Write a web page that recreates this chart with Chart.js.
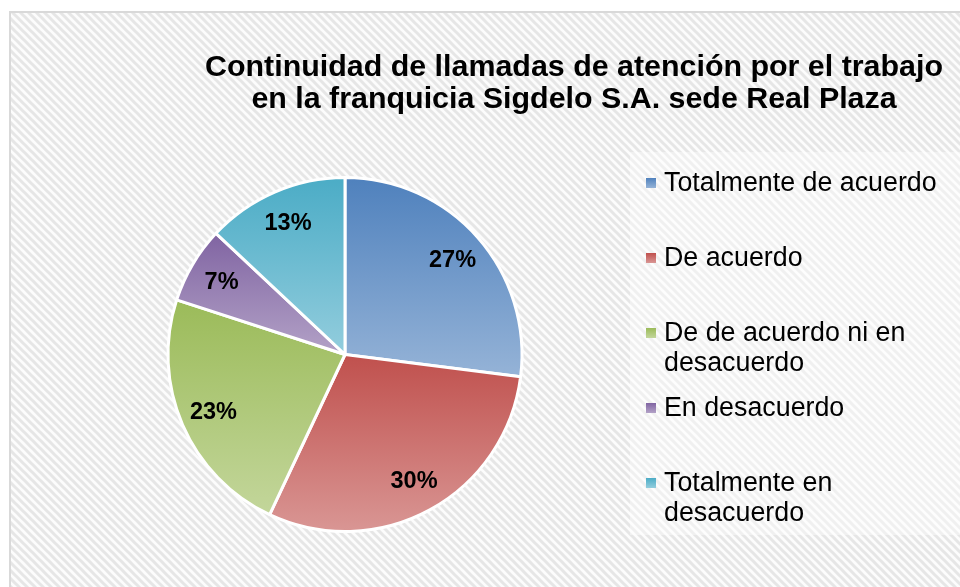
<!DOCTYPE html>
<html>
<head>
<meta charset="utf-8">
<title>Continuidad de llamadas de atención</title>
<script src="https://cdn.jsdelivr.net/npm/chart.js@4.4.1/dist/chart.umd.min.js"></script>
<style>
  html, body { margin: 0; padding: 0; background: #fff; }
  #wrap { width: 960px; height: 587px; }
</style>
</head>
<body>
<div id="wrap"><canvas id="pie" width="960" height="587"></canvas></div>
<script>
'use strict';

/*--- data ---*/
var titleLines = [
  'Continuidad de llamadas de atención por el trabajo',
  'en la franquicia Sigdelo S.A. sede Real Plaza'
];
var categories = [
  'Totalmente de acuerdo',
  'De acuerdo',
  'De de acuerdo ni en desacuerdo',
  'En desacuerdo',
  'Totalmente en desacuerdo'
];
var percents = [27, 30, 23, 7, 13];

/*--- colours (top of each slice -> bottom) ---*/
var topColors = ['#4f81bd', '#c0504d', '#9bbb59', '#8064a2', '#4bacc6'];
var bottomColors = ['#95b3d7', '#d99694', '#c3d69b', '#b3a2c7', '#93cddd'];

var FONT = '"Liberation Sans", Arial, sans-serif';

/*--- diagonal hatch used for the chart background ---*/
function hatch(ctx) {
  var t = document.createElement('canvas');
  t.width = t.height = 8;
  var c = t.getContext('2d');
  c.fillStyle = '#fcfcfc';
  c.fillRect(0, 0, 8, 8);
  c.strokeStyle = '#e6e6e6';
  c.lineWidth = 3;
  c.beginPath();
  c.moveTo(-2, -2); c.lineTo(10, 10);
  c.moveTo(6, -2); c.lineTo(18, 10);
  c.moveTo(-10, -2); c.lineTo(2, 10);
  c.stroke();
  return ctx.createPattern(t, 'repeat');
}

var frame = {
  id: 'frame',
  beforeDraw: function (chart) {
    var ctx = chart.ctx, w = chart.width, h = chart.height;
    ctx.save();
    ctx.fillStyle = '#fff';
    ctx.fillRect(0, 0, w, h);
    ctx.fillStyle = hatch(ctx);
    ctx.fillRect(10, 12, w - 10, h - 12);
    ctx.strokeStyle = '#d9d9d9';
    ctx.lineWidth = 2;
    ctx.beginPath();
    ctx.moveTo(10, h);
    ctx.lineTo(10, 12);
    ctx.lineTo(w, 12);
    ctx.stroke();
    // legend panel
    ctx.fillStyle = 'rgba(255,255,255,0.4)';
    ctx.fillRect(630, 152, w - 630, 383);
    ctx.restore();
  }
};

/*--- vertical gradient per slice, spanning the slice's own height ---*/
var shading = {
  id: 'shading',
  beforeDatasetsDraw: function (chart) {
    var ctx = chart.ctx;
    chart.getDatasetMeta(0).data.forEach(function (arc, i) {
      var p = arc.getProps(['x', 'y', 'startAngle', 'endAngle', 'outerRadius']);
      var ys = [p.y,
        p.y + Math.sin(p.startAngle) * p.outerRadius,
        p.y + Math.sin(p.endAngle) * p.outerRadius];
      [-Math.PI / 2, Math.PI / 2, 3 * Math.PI / 2].forEach(function (a) {
        if (a >= p.startAngle && a <= p.endAngle) ys.push(p.y + Math.sin(a) * p.outerRadius);
      });
      var g = ctx.createLinearGradient(0, Math.min.apply(null, ys), 0, Math.max.apply(null, ys));
      g.addColorStop(0, topColors[i]);
      g.addColorStop(1, bottomColors[i]);
      arc.options.backgroundColor = g;
    });
  }
};

/*--- percentage labels inside the slices ---*/
var sliceLabels = {
  id: 'sliceLabels',
  afterDatasetsDraw: function (chart) {
    var ctx = chart.ctx;
    var values = chart.data.datasets[0].data;
    ctx.save();
    ctx.font = 'bold 23.5px ' + FONT;
    ctx.fillStyle = '#000';
    ctx.textAlign = 'center';
    ctx.textBaseline = 'middle';
    chart.getDatasetMeta(0).data.forEach(function (arc, i) {
      var p = arc.getProps(['x', 'y', 'startAngle', 'endAngle', 'outerRadius']);
      var mid = (p.startAngle + p.endAngle) / 2;
      var r = p.outerRadius * 0.81;
      ctx.fillText(values[i] + '%', p.x + Math.cos(mid) * r, p.y + Math.sin(mid) * r + 1);
    });
    ctx.restore();
  }
};

/*--- legend on the right, wrapped text ---*/
function wrap(ctx, text, maxW) {
  var words = text.split(' '), lines = [], line = '';
  words.forEach(function (wd) {
    var test = line ? line + ' ' + wd : wd;
    if (line && ctx.measureText(test).width > maxW) {
      lines.push(line);
      line = wd;
    } else {
      line = test;
    }
  });
  lines.push(line);
  return lines;
}

var sideLegend = {
  id: 'sideLegend',
  afterDraw: function (chart) {
    var ctx = chart.ctx;
    ctx.save();
    ctx.font = '26.8px ' + FONT;
    ctx.fillStyle = '#000';
    ctx.textBaseline = 'alphabetic';
    chart.data.labels.forEach(function (label, i) {
      var base = 191 + i * 75;
      var g = ctx.createLinearGradient(0, base - 13, 0, base - 3);
      g.addColorStop(0, topColors[i]);
      g.addColorStop(1, bottomColors[i]);
      ctx.fillStyle = g;
      ctx.fillRect(646, base - 13, 10, 10);
      ctx.fillStyle = '#000';
      wrap(ctx, label, 285).forEach(function (ln, k) {
        ctx.fillText(ln, 664, base + k * 29.5);
      });
    });
    ctx.restore();
  }
};

/*--- two line title ---*/
var heading = {
  id: 'heading',
  afterDraw: function (chart) {
    var ctx = chart.ctx;
    ctx.save();
    ctx.font = 'bold 30.4px ' + FONT;
    ctx.fillStyle = '#000';
    ctx.textAlign = 'center';
    ctx.textBaseline = 'alphabetic';
    titleLines.forEach(function (t, k) {
      ctx.fillText(t, 574, 76 + k * 32);
    });
    ctx.restore();
  }
};

new Chart(document.getElementById('pie'), {
  type: 'pie',
  data: {
    labels: categories,
    datasets: [{
      data: percents,
      backgroundColor: topColors,
      borderColor: '#ffffff',
      borderWidth: 3
    }]
  },
  options: {
    responsive: false,
    animation: false,
    events: [],
    layout: { padding: { left: 166, right: 436, top: 176, bottom: 54 } },
    plugins: {
      legend: { display: false },
      tooltip: { enabled: false },
      title: { display: false }
    }
  },
  plugins: [frame, shading, sliceLabels, sideLegend, heading]
});
</script>
</body>
</html>
